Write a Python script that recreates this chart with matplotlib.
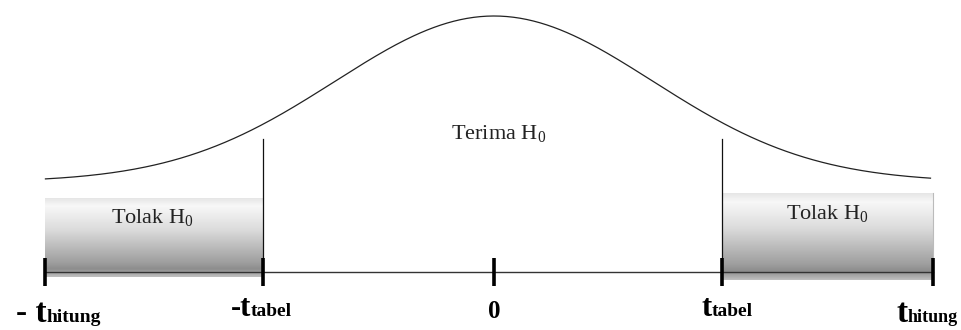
import numpy as np
import matplotlib.pyplot as plt

# posisi titik pada sumbu t
t_hitung = [-2.99, 2.93]
t_tabel = [-1.54, 1.52]
t_nol = 0.0

# kurva normal: simpangan baku, tinggi dasar, tinggi puncak
sd = 1.06
y_dasar = 90
y_puncak = 166
t_kurva = [-2.99, 2.91]

# daerah tolak (atas, bawah)
tolak_kiri = (74, -5)
tolak_kanan = (79, -8)

# gradasi abu-abu daerah tolak (posisi relatif dari atas, nilai abu)
grad_pos = [0.0, 0.1, 0.4, 0.82, 0.9, 1.0]
grad_abu = [0.90, 0.97, 0.86, 0.62, 0.55, 0.75]

# label
teks_terima = r'Terima H$_0$'
teks_tolak = r'Tolak H$_0$'

plt.rcParams['font.family'] = 'Liberation Serif'
plt.rcParams['mathtext.fontset'] = 'custom'
plt.rcParams['mathtext.rm'] = 'Liberation Serif'
plt.rcParams['mathtext.it'] = 'Liberation Serif'

fig = plt.figure(figsize=(9.62, 3.30), dpi=100)
ax = fig.add_axes([0, 0, 1, 1])
ax.set_xlim(-3.293, 3.12)
ax.set_ylim(-58, 272)
ax.axis('off')

# kurva
x = np.linspace(t_kurva[0], t_kurva[1], 400)
y = y_dasar + y_puncak * np.exp(-0.5 * (x / sd) ** 2)
ax.plot(x, y, color='#222222', lw=0.9)

# daerah tolak dengan gradasi
g = np.interp(np.linspace(0, 1, 200), grad_pos, grad_abu)
img = np.repeat(g[:, None], 2, axis=1)
for x0, x1, (atas, bawah) in [(t_hitung[0], t_tabel[0], tolak_kiri),
                              (t_tabel[1], t_hitung[1], tolak_kanan)]:
    ax.imshow(img, cmap='gray', vmin=0, vmax=1, aspect='auto',
              extent=(x0, x1, bawah, atas), zorder=1, interpolation='bilinear')
ax.plot([t_hitung[1], t_hitung[1]], [0, tolak_kanan[0]], color='#bbbbbb', lw=0.8, zorder=2)

# garis dasar
ax.plot([t_hitung[0], t_hitung[1]], [0, 0], color='#333333', lw=1.0, zorder=3)

# garis batas t tabel
for t in t_tabel:
    ax.plot([t, t], [0, 133], color='#111111', lw=0.9, zorder=3)

# tanda pada sumbu
semua_t = [t_hitung[0], t_tabel[0], t_nol, t_tabel[1], t_hitung[1]]
for t in semua_t:
    ax.plot([t, t], [-14, 14], color='black', lw=2.6, solid_capstyle='butt', zorder=4)

# teks daerah
ax.text(0.03, 139, teks_terima, ha='center', va='center', fontsize=16, color='#222222')
ax.text(-2.28, 55, teks_tolak, ha='center', va='center', fontsize=16, color='#222222', zorder=5)
ax.text(2.22, 59, teks_tolak, ha='center', va='center', fontsize=16, color='#222222', zorder=5)

# label sumbu: (posisi t, geser px, awalan, ukuran t, ukuran sub, sub, garis dasar)
label_sumbu = [
    (t_hitung[0], 1, '- ', 24, 14, 'hitung', -50),
    (t_tabel[0], -12, '-', 22, 14, 'tabel', -44),
    (t_tabel[1], -10, '', 22, 14, 'tabel', -44),
    (t_hitung[1], -26, '', 24, 13, 'hitung', -50),
]
for t, dx, awal, ukuran, ukuran_sub, sub, yb in label_sumbu:
    ax.annotate(awal + 't', xy=(t, yb), xytext=(dx, 0), textcoords='offset pixels',
                ha='right', va='baseline', fontsize=ukuran, fontweight='bold')
    ax.annotate(sub, xy=(t, yb), xytext=(dx, 0), textcoords='offset pixels',
                ha='left', va='baseline', fontsize=ukuran_sub, fontweight='bold')
ax.text(t_nol, -46, '0', ha='center', va='baseline', fontsize=18, fontweight='bold')

plt.savefig('out.png', dpi=100)
